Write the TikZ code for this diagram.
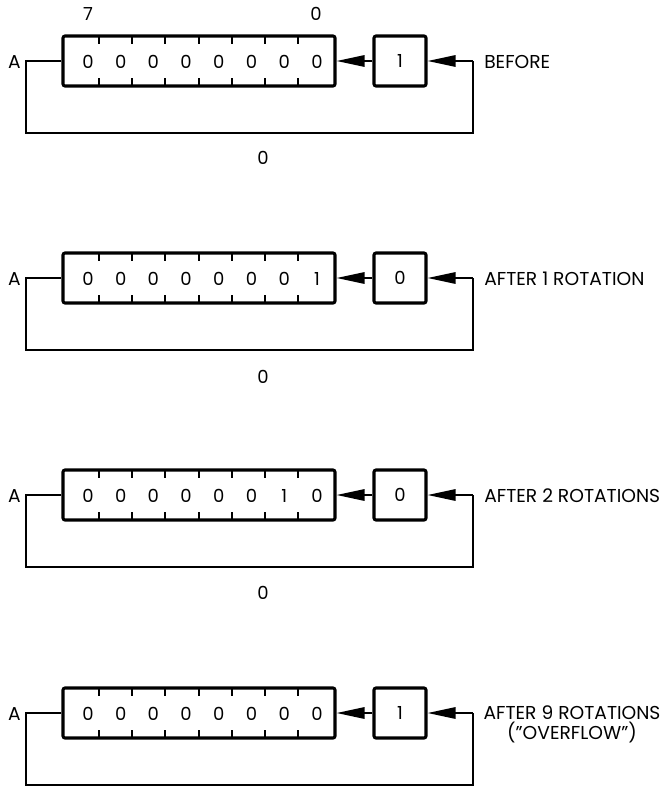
\documentclass[tikz,border=0pt]{standalone}
\usepackage{fontspec}
\setmainfont{Poppins}
\usetikzlibrary{arrows.meta}
\tikzset{
  regbox/.style={draw, line width=2.3pt, rounded corners=1.5pt, minimum width=204pt, minimum height=37.5pt, inner sep=0pt},
  bitbox/.style={draw, line width=2.3pt, rounded corners=1.5pt, minimum width=39pt, minimum height=37.5pt, inner sep=0pt, font=\fontsize{13.5}{13.5}\selectfont},
  digit/.style={inner sep=0pt, font=\fontsize{13.5}{13.5}\selectfont},
  txt/.style={inner sep=0pt, font=\fontsize{14}{14}\selectfont},
  tick/.style={line width=1.4pt},
  wire/.style={line width=1.5pt, line join=miter},
  arr/.style={wire, -{Triangle[length=21pt,width=8.5pt]}},
}
\newcommand\rotpanel[5]{%
  \node[regbox] (reg#1) at (199,#2) {};
  \node[bitbox] (box#1) at (400,#2) {#4};
  \foreach \d [count=\k] in {#3} {
    \node[digit] (d#1-\k) at ({88+32.7*(\k-1)},{#2+1}) {\d};
  }
  \foreach \k in {1,...,7} {
    \draw[tick] ({99+33.2*(\k-1)},{#2-25}) -- ++(0,8);
    \draw[tick] ({99+33.2*(\k-1)},{#2+25}) -- ++(0,-8);
  }
  \coordinate (a#1) at (26,#2);
  \coordinate (c#1) at (26,{#2+72});
  \coordinate (f#1) at (473,{#2+72});
  \coordinate (e#1) at (473,#2);
  \node[txt, anchor=east] (A#1) at (21,{#2+1}) {A};
  \draw[wire] (reg#1.west) -- (a#1) -- (c#1) -- (f#1) -- (e#1);
  \draw[arr] (e#1) -- (box#1.east);
  \draw[arr] (box#1.west) -- (reg#1.east);
  #5
}
\begin{document}
\begin{tikzpicture}[x=0.75pt, y=-0.75pt]
\useasboundingbox (0,0) rectangle (665,788);
\rotpanel{1}{61}{0,0,0,0,0,0,0,0}{1}{%
  \node[txt, anchor=west] (L1) at (484,62) {BEFORE};
  \node[digit] (t7) at (88,14) {7};
  \node[digit] (t0) at (316,14) {0};
  \node[digit] (b1) at (263,158) {0};}
\rotpanel{2}{278}{0,0,0,0,0,0,0,1}{0}{%
  \node[txt, anchor=west] (L2) at (484,279) {AFTER 1 ROTATION};
  \node[digit] (b2) at (263,377) {0};}
\rotpanel{3}{495}{0,0,0,0,0,0,1,0}{0}{%
  \node[txt, anchor=west] (L3) at (484,496) {AFTER 2 ROTATIONS};
  \node[digit] (b3) at (263,593) {0};}
\rotpanel{4}{713}{0,0,0,0,0,0,0,0}{1}{%
  \node[txt, anchor=north, align=center, font=\fontsize{14}{15.5}\selectfont] (L4) at (572,705) {AFTER 9 ROTATIONS\\(''OVERFLOW'')};}
\end{tikzpicture}
\end{document}
